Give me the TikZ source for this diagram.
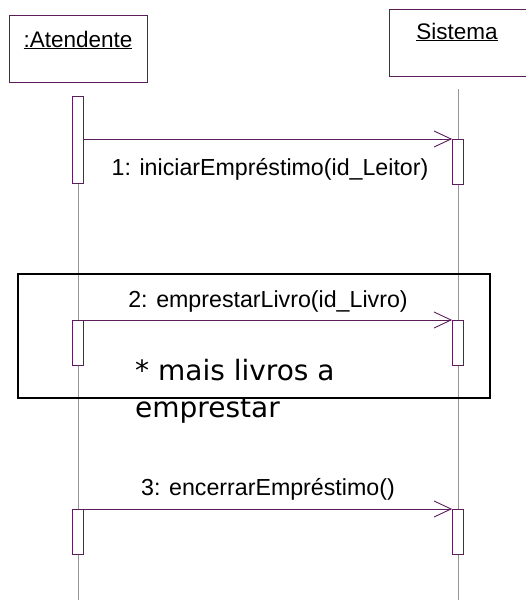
\documentclass[tikz,border=0pt]{standalone}
\usepackage{fontspec}
\setmainfont{Liberation Sans}
\newfontfamily\notefont{DejaVu Sans}
\usetikzlibrary{arrows.meta}
\definecolor{umlpurple}{RGB}{90,30,90}
\definecolor{lifegray}{RGB}{150,150,150}

\begin{document}
\begin{tikzpicture}[x=1pt,y=-1pt,
  objbox/.style={draw=umlpurple,line width=0.8pt,inner sep=0pt,anchor=north west},
  objname/.style={font=\fontsize{22.5}{26}\selectfont,anchor=base,inner sep=0pt},
  actbox/.style={draw=umlpurple,fill=white,line width=0.8pt,minimum width=11pt,inner sep=0pt,anchor=north},
  lifeline/.style={draw=lifegray,line width=0.6pt},
  msg/.style={draw=umlpurple,line width=0.9pt,-{Straight Barb[length=17pt,width=16pt,line width=0.9pt]}},
  msglabel/.style={font=\fontsize{23.2}{26}\selectfont,anchor=base,inner sep=0pt}]
\useasboundingbox (0,0) rectangle (526,600);
\clip (0,0) rectangle (526,600);
% objects
\node[objbox,minimum width=138pt,minimum height=67pt] (atend) at (9,15) {};
\node[objname] (atendName) at (78,47) {\underline{:Atendente}};
\node[objbox,minimum width=150pt,minimum height=67pt] (sist) at (389,9) {};
\node[objname] (sistName) at (457,39) {\underline{Sistema}};
% lifelines
\coordinate (atendTop) at (78,96);
\coordinate (atendEnd) at (78,600);
\coordinate (sistTop) at (458,89);
\coordinate (sistEnd) at (458,600);
\draw[lifeline] (atendTop) -- (atendEnd);
\draw[lifeline] (sistTop) -- (sistEnd);
% activations
\node[actbox,minimum height=87pt] (a1) at (78,96) {};
\node[actbox,minimum height=45pt] (s1) at (458,139) {};
\node[actbox,minimum height=45pt] (a2) at (78,320) {};
\node[actbox,minimum height=45pt] (s2) at (458,320) {};
\node[actbox,minimum height=45pt] (a3) at (78,509) {};
\node[actbox,minimum height=45pt] (s3) at (458,509) {};
% messages
\draw[msg] (a1.east |- s1.north west) -- (s1.north west);
\node[msglabel] (m1) at (270,175) {1: iniciarEmpréstimo(id\_Leitor)};
\draw[msg] (a2.north east) -- (s2.north west);
\node[msglabel] (m2) at (268,307) {2: emprestarLivro(id\_Livro)};
\draw[msg] (a3.north east) -- (s3.north west);
\node[msglabel] (m3) at (268,495) {3: encerrarEmpréstimo()};
% loop frame
\draw[black,line width=1.3pt] (18,274) rectangle (490,398);
\node[anchor=base west,inner sep=0pt,align=left,font=\notefont\fontsize{28}{37}\selectfont] (loopNote) at (135,417) {* mais livros a\\emprestar};
\end{tikzpicture}
\end{document}
